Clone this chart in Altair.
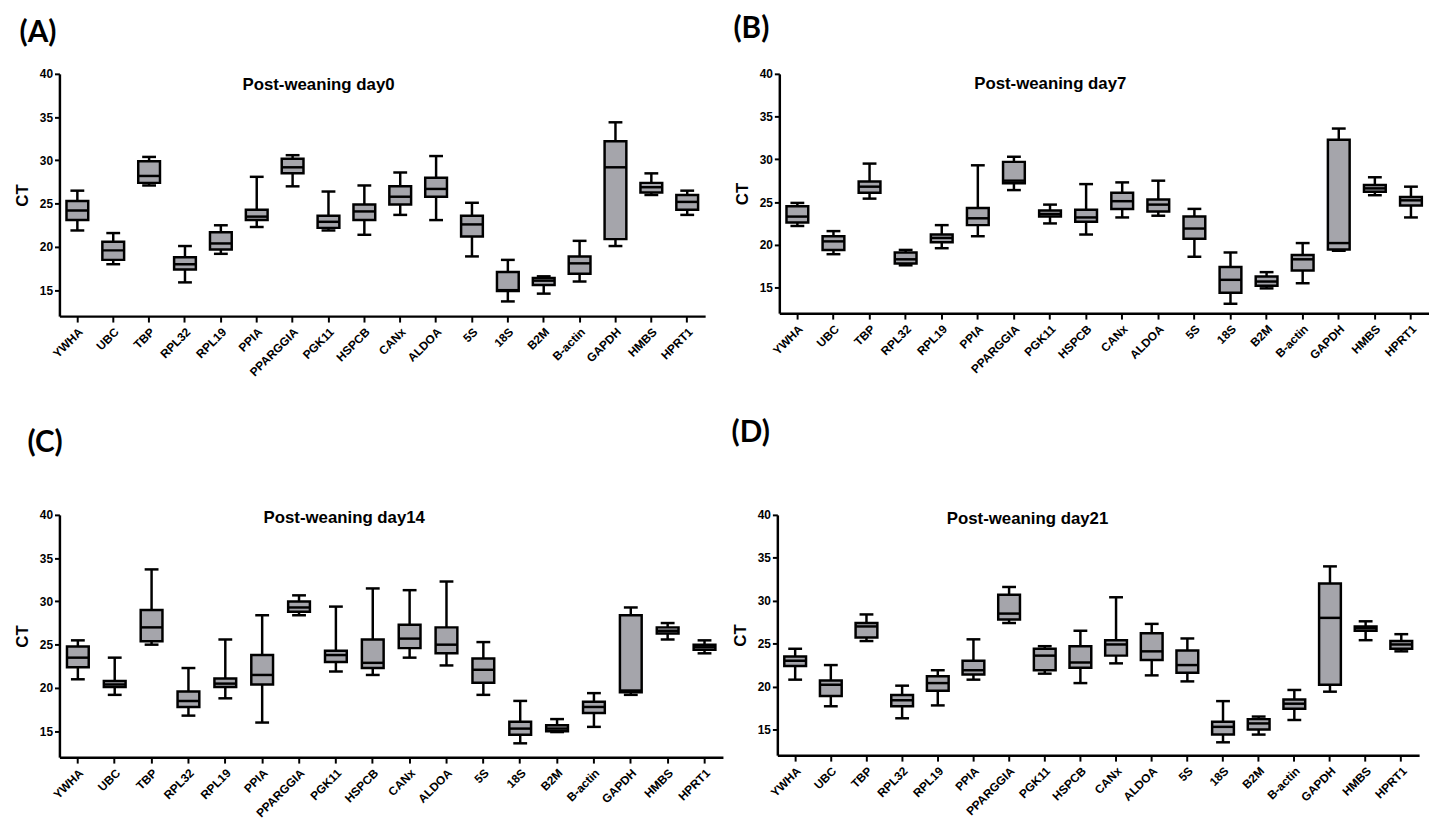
import altair as alt
import pandas as pd

genes = ["YWHA", "UBC", "TBP", "RPL32", "RPL19", "PPIA", "PPARGGIA", "PGK11", "HSPCB",
         "CANx", "ALDOA", "5S", "18S", "B2M", "B-actin", "GAPDH", "HMBS", "HPRT1"]

# Panel A: Post-weaning day0
a_min = [21.9, 18.0, 27.1, 15.9, 19.2, 22.3, 27.0, 21.9, 21.4, 23.7, 23.1, 18.9, 13.7, 14.6, 16.0, 20.1, 26.0, 23.7]
a_q1 = [23.1, 18.5, 27.4, 17.4, 19.7, 23.1, 28.5, 22.2, 23.1, 24.9, 25.8, 21.2, 14.9, 15.6, 16.9, 20.9, 26.3, 24.3]
a_med = [24.2, 19.6, 28.2, 18.0, 20.4, 23.5, 29.2, 22.9, 24.1, 25.8, 26.7, 22.6, 15.0, 16.1, 18.1, 29.2, 26.9, 25.2]
a_q3 = [25.3, 20.6, 29.9, 18.8, 21.7, 24.3, 30.2, 23.6, 24.9, 27.0, 28.0, 23.6, 17.1, 16.4, 18.9, 32.2, 27.4, 26.0]
a_max = [26.5, 21.6, 30.4, 20.1, 22.5, 28.1, 30.6, 26.4, 27.1, 28.6, 30.5, 25.1, 18.5, 16.6, 20.7, 34.4, 28.5, 26.5]

# Panel B: Post-weaning day7
b_min = [22.2, 18.9, 25.4, 17.6, 19.6, 21.0, 26.4, 22.5, 21.2, 23.2, 23.4, 18.6, 13.1, 14.9, 15.5, 19.3, 25.8, 23.2]
b_q1 = [22.6, 19.4, 26.1, 17.8, 20.3, 22.3, 27.2, 23.3, 22.7, 24.2, 23.9, 20.7, 14.4, 15.2, 17.0, 19.45, 26.2, 24.6]
b_med = [23.3, 20.4, 26.8, 18.3, 20.8, 23.1, 27.5, 23.6, 23.2, 25.1, 24.7, 21.9, 15.9, 15.7, 18.3, 20.2, 26.6, 25.2]
b_q3 = [24.5, 21.0, 27.4, 19.1, 21.2, 24.3, 29.7, 24.0, 24.1, 26.1, 25.3, 23.3, 17.4, 16.3, 18.8, 32.3, 27.0, 25.6]
b_max = [24.9, 21.6, 29.5, 19.4, 22.3, 29.3, 30.3, 24.7, 27.1, 27.3, 27.5, 24.2, 19.1, 16.8, 20.2, 33.6, 27.9, 26.8]

# Panel C: Post-weaning day14
c_min = [21.0, 19.2, 25.0, 16.8, 18.8, 16.0, 28.4, 21.9, 21.5, 23.5, 22.6, 19.2, 13.6, 14.9, 15.5, 19.2, 25.6, 24.0]
c_q1 = [22.4, 20.1, 25.4, 17.8, 20.1, 20.4, 28.8, 23.0, 22.3, 24.6, 24.0, 20.6, 14.6, 15.0, 17.1, 19.5, 26.3, 24.4]
c_med = [23.5, 20.4, 27.0, 18.5, 20.5, 21.5, 29.3, 23.8, 22.9, 25.7, 25.0, 22.1, 15.3, 15.3, 17.8, 19.7, 26.6, 24.7]
c_q3 = [24.8, 20.8, 29.0, 19.6, 21.1, 23.8, 30.0, 24.3, 25.6, 27.3, 27.0, 23.4, 16.1, 15.7, 18.4, 28.4, 27.0, 25.0]
c_max = [25.5, 23.5, 33.7, 22.3, 25.6, 28.4, 30.7, 29.4, 31.5, 31.3, 32.3, 25.3, 18.5, 16.4, 19.4, 29.3, 27.5, 25.5]

# Panel D: Post-weaning day21
d_min = [20.8, 17.7, 25.3, 16.3, 17.8, 20.8, 27.4, 21.5, 20.4, 22.7, 21.3, 20.6, 13.5, 14.4, 16.1, 19.4, 25.4, 24.1]
d_q1 = [22.4, 18.9, 25.7, 17.7, 19.5, 21.4, 27.8, 21.9, 22.2, 23.6, 23.1, 21.6, 14.4, 15.0, 17.4, 20.2, 26.5, 24.4]
d_med = [23.0, 20.2, 27.0, 18.4, 20.4, 21.9, 28.5, 23.6, 22.8, 24.9, 24.1, 22.5, 15.3, 15.7, 18.0, 28.0, 26.8, 24.9]
d_q3 = [23.5, 20.7, 27.4, 19.0, 21.2, 23.0, 30.7, 24.4, 24.7, 25.4, 26.2, 24.2, 15.9, 16.2, 18.5, 32.0, 27.0, 25.3]
d_max = [24.4, 22.5, 28.4, 20.1, 21.9, 25.5, 31.6, 24.7, 26.5, 30.4, 27.3, 25.6, 18.3, 16.5, 19.6, 34.0, 27.6, 26.1]

y_ticks = [15, 20, 25, 30, 35, 40]
BOX_FILL = "#a5a5ab"
LABEL_FONT = "Liberation Sans"


def panel(letter, title, mins, q1s, meds, q3s, maxs, w, h, t_x, t_y, t_off, t_dx):
    df = pd.DataFrame({"gene": genes, "lo": mins, "q1": q1s, "med": meds, "q3": q3s, "hi": maxs})
    x = alt.X("gene:N", sort=genes,
              scale=alt.Scale(paddingInner=0, paddingOuter=0),
              axis=alt.Axis(title=None, labelAngle=-45, labelFont=LABEL_FONT, labelFontSize=12,
                            labelPadding=4, labelOverlap=False, tickSize=6))
    yaxis = alt.Axis(title="CT", values=y_ticks, tickSize=5, labelPadding=2, titlePadding=8)
    yscale = alt.Scale(domain=[12, 40], nice=False, zero=False)

    def Y(f):
        return alt.Y(f, scale=yscale, axis=yaxis)

    base = alt.Chart(df)
    whisk = base.mark_rule(color="black", strokeWidth=2.5).encode(x=x, y=Y("lo:Q"), y2="hi:Q")
    box = base.mark_bar(size=22, fill=BOX_FILL, stroke="black", strokeWidth=2.5).encode(
        x=x, y=Y("q1:Q"), y2="q3:Q")
    med = base.mark_tick(size=22, thickness=2.5, color="black", opacity=1).encode(x=x, y=Y("med:Q"))
    cap_hi = base.mark_tick(size=14, thickness=2.5, color="black", opacity=1).encode(x=x, y=Y("hi:Q"))
    cap_lo = base.mark_tick(size=14, thickness=2.5, color="black", opacity=1).encode(x=x, y=Y("lo:Q"))
    ttl = alt.Chart(pd.DataFrame({"t": [title]})).mark_text(
        font=LABEL_FONT, fontSize=17, fontWeight="bold", color="black", align="center",
        baseline="middle").encode(x=alt.value(t_x), y=alt.value(t_y), text="t:N")
    return alt.layer(whisk, box, med, cap_hi, cap_lo, ttl).properties(
        width=w, height=h,
        title=alt.TitleParams(text=letter, anchor="start", font="Lato", fontSize=30,
                              fontWeight="bold", color="black", offset=t_off, dx=t_dx))


pa = panel("(A)", "Post-weaning day0", a_min, a_q1, a_med, a_q3, a_max, 653, 245, 262, 11, 20, 6)
pb = panel("(B)", "Post-weaning day7", b_min, b_q1, b_med, b_q3, b_max, 657, 242, 274, 10, 24, 0)
pc = panel("(C)", "Post-weaning day14", c_min, c_q1, c_med, c_q3, c_max, 671, 245, 288, 3, 52, 14)
pd_ = panel("(D)", "Post-weaning day21", d_min, d_q1, d_med, d_q3, d_max, 649, 243, 253, 4, 62, 0)

row1 = alt.hconcat(pa, pb, spacing=28)
row2 = alt.hconcat(pc, pd_, spacing=8)

chart = alt.vconcat(row1, row2, spacing=40).properties(
    padding={"left": 5, "top": 2, "right": 0, "bottom": 0}
).configure_view(stroke=None).configure_axis(
    domainColor="black", domainWidth=2.5, tickColor="black", tickWidth=2,
    labelFont=LABEL_FONT, labelFontWeight="bold", labelFontSize=12, labelColor="black",
    titleFont=LABEL_FONT, titleFontWeight="bold", titleFontSize=17, titleColor="black",
    grid=False
)

chart.save("out.html", embed_options={"renderer": "svg", "actions": False})
